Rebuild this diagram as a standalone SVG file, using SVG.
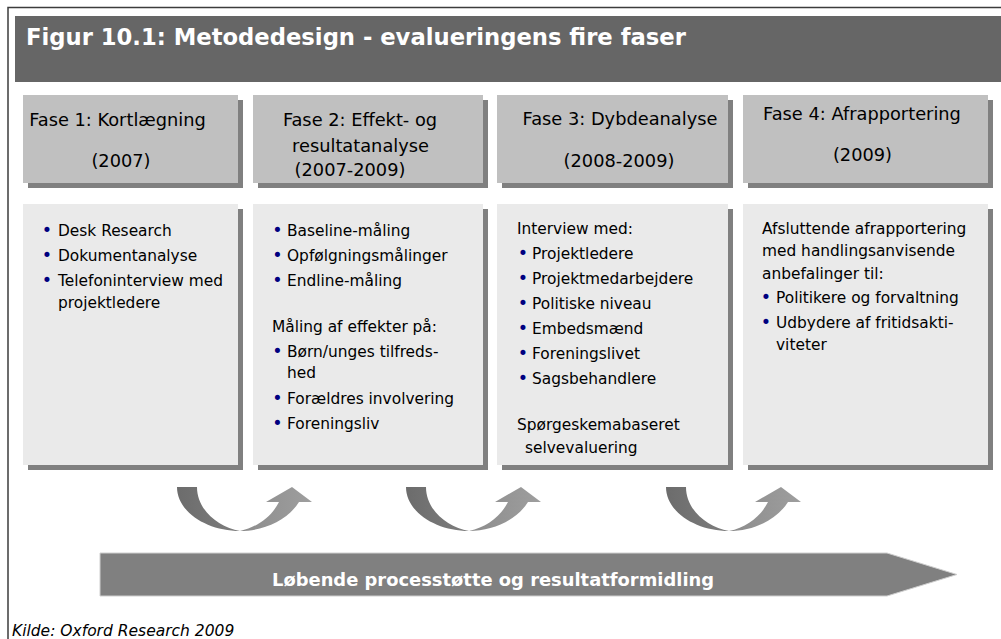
<svg xmlns="http://www.w3.org/2000/svg" width="1001" height="639" viewBox="0 0 1001 639">
<style>
.frame{fill:none;stroke:#3c3c3c;stroke-width:1.5}
.title{font-family:"DejaVu Sans",Verdana,sans-serif;font-weight:bold;font-size:22.7px;fill:#ffffff}
.hdr{fill:#c0c0c0}
.shd{fill:#808080}
.body{fill:#eaeaea}
.ht{font-family:"DejaVu Sans",Verdana,sans-serif;font-size:17.8px;fill:#000000;text-anchor:middle}
.ct{font-family:"DejaVu Sans",Verdana,sans-serif;font-size:15.4px;fill:#000000}
.b{fill:#000080;font-size:17.5px}
.band{fill:#808080;stroke:#cfcfcf;stroke-width:1}
.bandt{font-family:"DejaVu Sans",Verdana,sans-serif;font-weight:bold;font-size:17.9px;fill:#ffffff}
.cap{font-family:"DejaVu Sans",Verdana,sans-serif;font-style:italic;font-size:15.5px;fill:#000000}
</style>
<defs>
<linearGradient id="gL" x1="0" y1="0" x2="1" y2="0">
<stop offset="0" stop-color="#6c6c6c"/>
<stop offset="1" stop-color="#7e7e7e"/>
</linearGradient>
<linearGradient id="gR" x1="0" y1="0" x2="1" y2="0">
<stop offset="0" stop-color="#8c8c8c"/>
<stop offset="1" stop-color="#9e9e9e"/>
</linearGradient>
<g id="curv">
<path d="M177,487 C177,512 207,531 240,531 C218,527 197,510 197,487 Z" fill="url(#gL)"/>
<path d="M240,531 C263,531 287,521 299,502 L312,502 L292,487 L266,502 L279,502 C272,516 258,527 240,531 Z" fill="url(#gR)"/>
</g>
</defs>

<rect width="1001" height="639" fill="#ffffff"/>
<path class="frame" d="M8,639 L8,7.5 L1001,7.5"/>

<g id="title">
<rect x="15" y="16" width="986" height="66" fill="#666666"/>
<text class="title" x="26" y="44.5">Figur 10.1: Metodedesign - evalueringens fire faser</text>
</g>

<g id="phase1">
<rect class="shd" x="28" y="100" width="215" height="88"/>
<rect class="hdr" x="23" y="95" width="215" height="88"/>
<text class="ht" x="117.5" y="126">Fase 1: Kortlægning</text>
<text class="ht" x="121" y="166.5">(2007)</text>
</g>
<g id="phase2">
<rect class="shd" x="258" y="100" width="230" height="88"/>
<rect class="hdr" x="253" y="95" width="230" height="88"/>
<text class="ht" x="360" y="126">Fase 2: Effekt- og</text>
<text class="ht" x="360.5" y="151.5">resultatanalyse</text>
<text class="ht" x="350" y="176">(2007-2009)</text>
</g>
<g id="phase3">
<rect class="shd" x="502" y="100" width="231" height="88"/>
<rect class="hdr" x="497" y="95" width="231" height="88"/>
<text class="ht" x="620" y="125">Fase 3: Dybdeanalyse</text>
<text class="ht" x="619" y="166.5">(2008-2009)</text>
</g>
<g id="phase4">
<rect class="shd" x="748" y="100" width="245" height="88"/>
<rect class="hdr" x="743" y="95" width="245" height="88"/>
<text class="ht" x="862" y="119.5">Fase 4: Afrapportering</text>
<text class="ht" x="862.5" y="161">(2009)</text>
</g>

<g id="content1">
<rect class="shd" x="28" y="209" width="215" height="261"/>
<rect class="body" x="23" y="204" width="215" height="261"/>
<text class="ct" y="236"><tspan class="b" x="41.8">•</tspan><tspan x="58">Desk Research</tspan></text>
<text class="ct" y="261"><tspan class="b" x="41.8">•</tspan><tspan x="58">Dokumentanalyse</tspan></text>
<text class="ct" y="286"><tspan class="b" x="41.8">•</tspan><tspan x="58">Telefoninterview med</tspan></text>
<text class="ct" x="58" y="308">projektledere</text>
</g>
<g id="content2">
<rect class="shd" x="258" y="209" width="230" height="261"/>
<rect class="body" x="253" y="204" width="230" height="261"/>
<text class="ct" y="236"><tspan class="b" x="272.3">•</tspan><tspan x="287">Baseline-måling</tspan></text>
<text class="ct" y="261"><tspan class="b" x="272.3">•</tspan><tspan x="287">Opfølgningsmålinger</tspan></text>
<text class="ct" y="286"><tspan class="b" x="272.3">•</tspan><tspan x="287">Endline-måling</tspan></text>
<text class="ct" x="272" y="332">Måling af effekter på:</text>
<text class="ct" y="357"><tspan class="b" x="272.3">•</tspan><tspan x="287">Børn/unges tilfreds-</tspan></text>
<text class="ct" x="287" y="378">hed</text>
<text class="ct" y="404"><tspan class="b" x="272.3">•</tspan><tspan x="287">Forældres involvering</tspan></text>
<text class="ct" y="429"><tspan class="b" x="272.3">•</tspan><tspan x="287">Foreningsliv</tspan></text>
</g>
<g id="content3">
<rect class="shd" x="502" y="209" width="231" height="261"/>
<rect class="body" x="497" y="204" width="231" height="261"/>
<text class="ct" x="517" y="234">Interview med:</text>
<text class="ct" y="259"><tspan class="b" x="517.8">•</tspan><tspan x="532">Projektledere</tspan></text>
<text class="ct" y="284"><tspan class="b" x="517.8">•</tspan><tspan x="532">Projektmedarbejdere</tspan></text>
<text class="ct" y="309"><tspan class="b" x="517.8">•</tspan><tspan x="532">Politiske niveau</tspan></text>
<text class="ct" y="334"><tspan class="b" x="517.8">•</tspan><tspan x="532">Embedsmænd</tspan></text>
<text class="ct" y="359"><tspan class="b" x="517.8">•</tspan><tspan x="532">Foreningslivet</tspan></text>
<text class="ct" y="384"><tspan class="b" x="517.8">•</tspan><tspan x="532">Sagsbehandlere</tspan></text>
<text class="ct" x="517" y="430">Spørgeskemabaseret</text>
<text class="ct" x="525" y="453">selvevaluering</text>
</g>
<g id="content4">
<rect class="shd" x="748" y="209" width="245" height="261"/>
<rect class="body" x="743" y="204" width="245" height="261"/>
<text class="ct" x="762" y="234">Afsluttende afrapportering</text>
<text class="ct" x="762" y="256">med handlingsanvisende</text>
<text class="ct" x="762" y="279">anbefalinger til:</text>
<text class="ct" y="303"><tspan class="b" x="760.8">•</tspan><tspan x="776">Politikere og forvaltning</tspan></text>
<text class="ct" y="328"><tspan class="b" x="760.8">•</tspan><tspan x="776">Udbydere af fritidsakti-</tspan></text>
<text class="ct" x="776" y="350">viteter</text>
</g>

<g id="connectors">
<use href="#curv"/>
<use href="#curv" transform="translate(229,0)"/>
<use href="#curv" transform="translate(489,0)"/>
</g>

<g id="process">
<path class="band" d="M100,553 L887,553 L957,574.5 L887,596 L100,596 Z"/>
<text class="bandt" x="272" y="586">Løbende processtøtte og resultatformidling</text>
</g>

<text class="cap" x="12" y="636">Kilde: Oxford Research 2009</text>
</svg>
